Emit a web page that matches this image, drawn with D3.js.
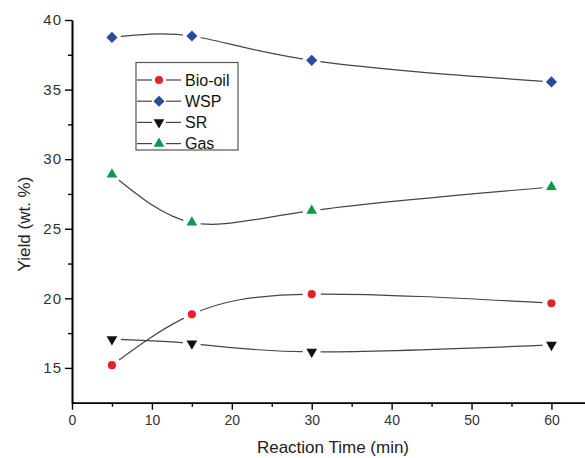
<!DOCTYPE html>
<html lang="en">
  <head>
    <meta charset="UTF-8" />
    <title>Yield vs Reaction Time</title>
    <style>
      body { margin: 0; background: #fff; }
      svg { display: block; font-family: Arial, 'Liberation Sans', sans-serif; }
    </style>
  </head>
  <body>
    <svg id="svg" width="585" height="458"></svg>
    <script src="https://d3js.org/d3.v7.min.js"></script>
    <script>
      // values
      const times = [5, 15, 30, 60];
      const bioOil = [15.2, 18.85, 20.3, 19.65];
      const wsp = [38.75, 38.85, 37.1, 35.55];
      const sr = [17.05, 16.75, 16.15, 16.65];
      const gas = [28.9, 25.45, 26.3, 28.0];
      const seriesNames = ['Bio-oil', 'WSP', 'SR', 'Gas'];
      const xMajor = [0, 10, 20, 30, 40, 50, 60];
      const xMinor = [5, 15, 25, 35, 45, 55];
      const yMajor = [15, 20, 25, 30, 35, 40];
      const yMinor = [17.5, 22.5, 27.5, 32.5, 37.5];

      const svg = d3.select('#svg');
      const x = d3.scaleLinear().domain([0, 64.2]).range([72, 585]);
      const y = d3.scaleLinear().domain([12.5, 40]).range([402.7, 20]);

      const series = [
        { name: seriesNames[0], values: bioOil, color: '#e3232a', shape: 'circle' },
        { name: seriesNames[1], values: wsp, color: '#2a4a9f', shape: 'diamond' },
        { name: seriesNames[2], values: sr, color: '#111', shape: 'down' },
        { name: seriesNames[3], values: gas, color: '#0c9a4a', shape: 'up' }
      ];

      function markerPath(shape) {
        if (shape === 'circle') return d3.symbol(d3.symbolCircle, 52)();
        if (shape === 'diamond') return d3.symbol(d3.symbolSquare, 62)();
        return d3.symbol(d3.symbolTriangle, 50)();
      }
      function markerRot(shape) {
        if (shape === 'diamond') return ' rotate(45)';
        if (shape === 'down') return ' rotate(180)';
        return '';
      }

      // axes
      const xAxis = svg.append('g').attr('transform', 'translate(0,402.7)')
        .call(d3.axisBottom(x).tickValues(xMajor).tickSize(7).tickSizeOuter(0).tickPadding(5));
      svg.append('g').attr('transform', 'translate(0,402.7)')
        .call(d3.axisBottom(x).tickValues(xMinor).tickSize(4).tickSizeOuter(0).tickFormat(''));
      const yAxis = svg.append('g').attr('transform', 'translate(72,0)')
        .call(d3.axisLeft(y).tickValues(yMajor).tickSize(7).tickSizeOuter(0).tickPadding(3));
      svg.append('g').attr('transform', 'translate(72,0)')
        .call(d3.axisLeft(y).tickValues(yMinor).tickSize(4).tickSizeOuter(0).tickFormat(''));

      svg.selectAll('.domain').attr('stroke', '#000').attr('stroke-width', 1.6);
      svg.selectAll('.tick line').attr('stroke', '#000').attr('stroke-width', 1.4);
      xAxis.selectAll('text').attr('font-size', 14).attr('fill', '#333');
      yAxis.selectAll('text').attr('font-size', 15).attr('fill', '#333').attr('letter-spacing', 1);

      // axis titles
      svg.append('text').attr('x', 333).attr('y', 453).attr('text-anchor', 'middle')
        .attr('font-size', 17).attr('fill', '#222').text('Reaction Time (min)');
      svg.append('text').attr('transform', 'translate(30,224) rotate(-90)')
        .attr('text-anchor', 'middle').attr('font-size', 17).attr('fill', '#222')
        .text('Yield (wt. %)');

      // smooth lines
      const line = d3.line()
        .x((d, i) => x(times[i]))
        .y((d) => y(d))
        .curve(d3.curveNatural);

      svg.append('g').selectAll('path')
        .data(series)
        .enter()
        .append('path')
        .attr('d', (d) => line(d.values))
        .attr('fill', 'none')
        .attr('stroke', '#444')
        .attr('stroke-width', 1.2);

      // markers with white gap around
      series.forEach((s) => {
        const g = svg.append('g');
        g.selectAll('circle.halo')
          .data(s.values)
          .enter()
          .append('circle')
          .attr('cx', (d, i) => x(times[i]))
          .attr('cy', (d) => y(d))
          .attr('r', 9)
          .attr('fill', '#fff');
        g.selectAll('path')
          .data(s.values)
          .enter()
          .append('path')
          .attr('d', markerPath(s.shape))
          .attr('transform', (d, i) => 'translate(' + x(times[i]) + ',' + y(d) + ')' + markerRot(s.shape))
          .attr('fill', s.color);
      });

      // legend
      const legend = svg.append('g');
      legend.append('rect')
        .attr('x', 136).attr('y', 62.5).attr('width', 102).attr('height', 87.5)
        .attr('fill', '#fff').attr('stroke', '#555').attr('stroke-width', 1.2);
      series.forEach((s, i) => {
        const cy = 80 + i * 21.2;
        legend.append('line').attr('x1', 137).attr('x2', 152).attr('y1', cy).attr('y2', cy)
          .attr('stroke', '#444').attr('stroke-width', 1.2);
        legend.append('line').attr('x1', 166).attr('x2', 181).attr('y1', cy).attr('y2', cy)
          .attr('stroke', '#444').attr('stroke-width', 1.2);
        legend.append('path')
          .attr('d', markerPath(s.shape))
          .attr('transform', 'translate(159,' + cy + ')' + markerRot(s.shape))
          .attr('fill', s.color);
        legend.append('text')
          .attr('x', 185).attr('y', cy + 5.5)
          .attr('font-size', 16).attr('fill', '#111')
          .text(s.name);
      });
    </script>
  </body>
</html>
